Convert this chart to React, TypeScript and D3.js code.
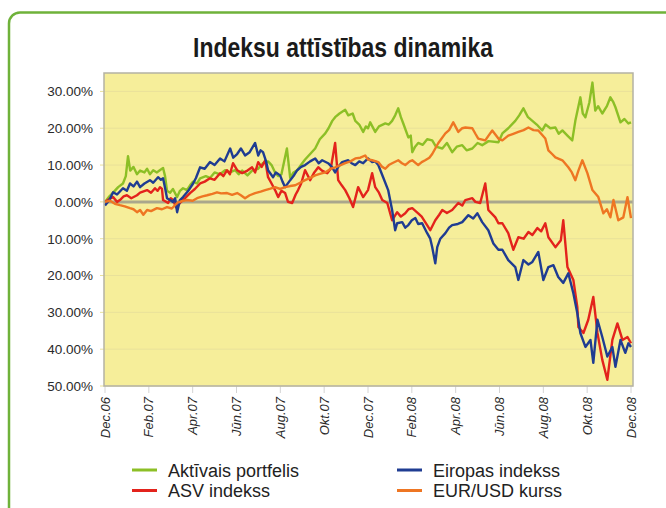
import { useEffect, useRef } from "react";
import * as d3 from "d3";

// x axis: months since Dec.06, one label every 2 months
const TICK_LABELS = [
  "Dec.06", "Feb.07", "Apr.07", "Jūn.07", "Aug.07", "Okt.07", "Dec.07",
  "Feb.08", "Apr.08", "Jūn.08", "Aug.08", "Okt.08", "Dec.08",
];
const Y_TICKS = [30, 20, 10, 0, -10, -20, -30, -40, -50];

// [months since Dec.06, change in %]
const aktivaisPortfelis: [number, number][] = [
  [0, 0], [0.2, 1.5], [0.37, 2.5], [0.6, 4], [0.82, 5], [0.95, 7], [1.05, 12.4], [1.15, 8.5], [1.3, 9.5],
  [1.46, 7.5], [1.6, 8.5], [1.8, 8], [1.92, 9], [2.05, 7.5], [2.2, 8.6], [2.37, 8], [2.5, 8.6], [2.65, 9.2],
  [2.74, 7], [2.83, 3], [2.97, 2.5], [3.1, 3.5], [3.29, 1.3], [3.42, 3], [3.56, 3.7], [3.74, 3.2], [3.88, 4.5],
  [4.02, 5.5], [4.2, 5], [4.34, 6.4], [4.6, 7], [4.79, 6.5], [5.0, 8], [5.25, 7.5], [5.48, 8.6], [5.7, 8],
  [5.94, 8.6], [6.1, 7.5], [6.26, 8.5], [6.5, 7.2], [6.71, 8.5], [6.99, 9], [7.2, 10.5], [7.44, 11], [7.6, 10],
  [7.76, 8], [7.9, 7], [8.05, 7.5], [8.3, 14.5], [8.45, 6.5], [8.6, 8], [8.77, 8.6], [9.0, 10.5], [9.13, 11.5],
  [9.36, 13], [9.59, 14.5], [9.8, 17], [10.05, 18.6], [10.2, 20], [10.37, 22], [10.5, 23], [10.7, 24],
  [10.96, 25], [11.1, 23.5], [11.3, 24], [11.42, 22], [11.6, 21], [11.78, 19], [11.9, 20.5], [12.0, 20],
  [12.1, 21.6], [12.33, 19], [12.5, 20.5], [12.79, 21.3], [12.95, 21], [13.1, 22], [13.24, 23.5], [13.38, 25.4],
  [13.5, 23], [13.61, 21.3], [13.84, 17.5], [13.95, 18], [14.02, 13.5], [14.15, 15], [14.29, 16], [14.5, 15.5],
  [14.7, 17], [14.93, 16.7], [15.1, 15], [15.39, 14.5], [15.6, 16], [15.84, 13.5], [16.05, 15], [16.3, 15.4],
  [16.5, 14], [16.76, 14.5], [17.0, 16], [17.21, 15.4], [17.5, 16.5], [17.95, 16.2], [18.13, 18.6], [18.4, 20],
  [18.72, 22], [18.9, 23.5], [19.09, 25.4], [19.3, 23], [19.5, 22], [19.7, 21], [19.95, 19.4], [20.1, 21],
  [20.32, 20], [20.55, 20.2], [20.7, 18.5], [20.87, 19.4], [21.1, 18], [21.32, 16.7], [21.46, 22], [21.69, 28.4],
  [21.8, 24], [21.92, 23], [22.1, 27], [22.24, 32.4], [22.37, 24.8], [22.5, 26], [22.69, 24], [22.9, 26],
  [23.06, 28.4], [23.2, 27], [23.29, 25.7], [23.52, 21.6], [23.7, 22.5], [23.88, 21.3], [24, 21.6],
];

const eiropasIndekss: [number, number][] = [
  [0, -1], [0.2, 0.5], [0.37, 2.6], [0.55, 2], [0.82, 3.7], [1.0, 3], [1.14, 5], [1.3, 4.2], [1.46, 5.5],
  [1.6, 4], [1.8, 5], [2.05, 5.9], [2.2, 5.2], [2.42, 6.7], [2.55, 6], [2.65, 6.4], [2.75, 3.5], [2.83, 1],
  [2.97, 0.5], [3.1, 0], [3.2, 1], [3.29, -2.8], [3.42, 0.5], [3.56, 1.3], [3.8, 3], [4.02, 5], [4.15, 6.5],
  [4.34, 9.4], [4.55, 9], [4.79, 10.8], [5.0, 10], [5.25, 11.8], [5.45, 11], [5.71, 14.5], [5.85, 12], [6.03, 13],
  [6.2, 14.5], [6.39, 12.6], [6.6, 13.5], [6.85, 16], [6.99, 12.6], [7.1, 14], [7.21, 13.5], [7.35, 11],
  [7.44, 8.6], [7.67, 6.7], [7.8, 8], [7.99, 7.2], [8.1, 5.5], [8.22, 4], [8.45, 5.9], [8.6, 7], [8.77, 8.6],
  [8.95, 9.5], [9.13, 10], [9.36, 11], [9.59, 11.8], [9.75, 10.5], [9.91, 11.3], [10.18, 10.5], [10.35, 9.5],
  [10.5, 8], [10.64, 9.5], [10.82, 10.8], [11.1, 11.3], [11.25, 10.5], [11.42, 10], [11.6, 11], [11.78, 10.5],
  [12.0, 11.8], [12.19, 10.8], [12.33, 11], [12.47, 10], [12.69, 6.7], [12.92, 3.2], [13.1, -2.2], [13.24, -7.7],
  [13.33, -5.8], [13.56, -5.5], [13.7, -7], [13.84, -6.3], [14.0, -5], [14.16, -4.4], [14.29, -6], [14.47, -5.8],
  [14.7, -8.5], [14.84, -10], [14.93, -12.3], [15.07, -16.7], [15.16, -12.3], [15.3, -10], [15.53, -8.5],
  [15.7, -7], [15.84, -6.3], [16.1, -6], [16.3, -5.5], [16.58, -3.6], [16.8, -4.5], [16.99, -3.1], [17.21, -5.5],
  [17.49, -7.7], [17.72, -11.3], [17.95, -13], [18.13, -13], [18.4, -15.8], [18.72, -17.7], [18.86, -21.2],
  [19.09, -15.8], [19.32, -17], [19.5, -16.3], [19.77, -13.6], [20.0, -21.2], [20.23, -17.7], [20.46, -17.2],
  [20.68, -20.4], [20.91, -22], [21.14, -19.4], [21.37, -24.8], [21.55, -30.2], [21.69, -35.6], [21.92, -39.4],
  [22.15, -37.5], [22.28, -43.7], [22.47, -32], [22.69, -36.7], [22.92, -42], [23.15, -39.4], [23.29, -44.8],
  [23.52, -37.5], [23.74, -41], [23.88, -38.4], [24, -39.4],
];

const asvIndekss: [number, number][] = [
  [0, 0], [0.2, 0.8], [0.37, 1.3], [0.55, 0], [0.68, 0.5], [0.85, 1.5], [1.0, 1.8], [1.2, 1], [1.46, 1.8],
  [1.6, 2.5], [1.92, 3.2], [2.1, 2.5], [2.28, 3.7], [2.4, 3], [2.51, 4], [2.6, 3.5], [2.65, 0.5], [2.88, -0.3],
  [3.0, 1], [3.1, 0.5], [3.25, -1.5], [3.42, -0.3], [3.65, 1], [3.88, 2.4], [4.1, 3.5], [4.34, 5], [4.55, 5.5],
  [4.79, 6.4], [5.0, 6], [5.25, 7.8], [5.4, 7], [5.57, 8.6], [5.7, 7.5], [5.84, 10.5], [6.03, 8.6], [6.26, 7.8],
  [6.5, 8.5], [6.71, 9.4], [6.85, 8], [6.99, 10.8], [7.15, 9.5], [7.31, 11.3], [7.44, 6.7], [7.6, 5], [7.76, 3.2],
  [7.9, 1.3], [8.05, 3], [8.22, 2.4], [8.35, 0], [8.54, -0.3], [8.7, 2], [8.81, 3.2], [8.95, 5], [9.13, 8.6],
  [9.36, 5.9], [9.55, 8], [9.73, 9.4], [9.9, 8.5], [10.14, 7.8], [10.3, 9], [10.5, 16], [10.64, 5.9], [10.8, 4.5],
  [10.96, 3.2], [11.15, 1], [11.32, -1.4], [11.55, 4], [11.78, 1.3], [12.0, 3.2], [12.19, 7.8], [12.33, 4],
  [12.5, 2.5], [12.65, 0.5], [12.88, -0.3], [13.1, -5], [13.33, -2.8], [13.5, -4], [13.7, -3.1], [13.85, -2],
  [14.02, -1.7], [14.29, -3.1], [14.45, -4], [14.61, -5.5], [14.84, -7.7], [15.07, -5], [15.25, -3.5],
  [15.39, -2.2], [15.6, -3], [15.84, -2.2], [16.12, -0.3], [16.3, -1], [16.44, 0.5], [16.76, 1], [16.9, 0],
  [17.12, -0.3], [17.35, 5], [17.49, -2.2], [17.81, -4.2], [17.95, -5.8], [18.13, -5.8], [18.4, -8.5],
  [18.63, -13], [18.86, -9.6], [19.1, -10], [19.32, -8.2], [19.5, -9], [19.73, -7.1], [19.9, -8], [20.09, -5.8],
  [20.23, -9.6], [20.55, -12.3], [20.8, -10.4], [20.91, -5], [21.1, -17.7], [21.37, -21.2], [21.55, -28.5],
  [21.6, -34], [21.83, -35.6], [22.05, -32], [22.28, -25.8], [22.47, -35.6], [22.69, -42.9], [22.92, -48.3],
  [23.15, -37.5], [23.38, -33], [23.61, -37.5], [23.84, -36.7], [24, -38.4],
];

const eurUsdKurss: [number, number][] = [
  [0, 0], [0.23, 0.3], [0.45, -0.5], [0.68, -0.9], [0.9, -1.2], [1.14, -1.7], [1.3, -2], [1.46, -2.8],
  [1.6, -2.2], [1.75, -3.5], [1.92, -2.2], [2.1, -2.5], [2.37, -1.7], [2.6, -2], [2.83, -1.4], [3.05, -1.8],
  [3.29, -0.3], [3.5, 0.2], [3.74, 0.5], [4.0, 0.3], [4.2, 1], [4.45, 1.5], [4.66, 1.8], [4.9, 2.2], [5.11, 2.6],
  [5.3, 2.3], [5.57, 2.4], [5.8, 1.9], [6.03, 2.4], [6.2, 1.8], [6.39, 1], [6.6, 1.8], [6.85, 2.4], [7.1, 2.8],
  [7.31, 3.2], [7.55, 3.6], [7.76, 4], [8.0, 3.5], [8.22, 4], [8.45, 4.3], [8.68, 4.5], [8.9, 5.2], [9.13, 5.9],
  [9.36, 6.5], [9.59, 7.2], [9.8, 7.6], [10.05, 8], [10.3, 9], [10.5, 9.4], [10.75, 10], [10.96, 10.5],
  [11.2, 11], [11.42, 11.8], [11.65, 12], [11.87, 12.6], [12.0, 11.5], [12.19, 11.3], [12.47, 10.8],
  [12.65, 9.5], [12.79, 9], [12.95, 10], [13.1, 10.5], [13.38, 11.3], [13.55, 10.5], [13.7, 10], [13.9, 11],
  [14.02, 11.3], [14.29, 10], [14.45, 10.8], [14.61, 11.3], [14.8, 12], [14.93, 13], [15.21, 16], [15.53, 18.6],
  [15.7, 19.5], [15.89, 21.6], [16.12, 19], [16.3, 20], [16.44, 20.2], [16.76, 20], [16.9, 18.5], [17.03, 17.2],
  [17.35, 16.7], [17.5, 18], [17.67, 19.4], [17.95, 17.2], [18.13, 16.7], [18.4, 18], [18.63, 18.5], [18.86, 19],
  [19.1, 19.5], [19.32, 20.2], [19.55, 19.5], [19.77, 19.4], [20.09, 17.2], [20.23, 14], [20.4, 13], [20.55, 12.1],
  [20.87, 11.3], [21.14, 9.4], [21.3, 8], [21.46, 5.9], [21.6, 8.5], [21.78, 11.3], [22.01, 7.8], [22.24, 3.2],
  [22.51, 1.3], [22.74, -3.1], [22.9, -2], [23.06, -4.2], [23.2, 0.5], [23.42, -5], [23.65, -4.2], [23.84, 1.3],
  [24, -4.4],
];

const SERIES = [
  { name: "Aktīvais portfelis", color: "#8cbf26", data: aktivaisPortfelis },
  { name: "ASV indekss", color: "#e3231c", data: asvIndekss },
  { name: "Eiropas indekss", color: "#1f3c92", data: eiropasIndekss },
  { name: "EUR/USD kurss", color: "#ee7623", data: eurUsdKurss },
];

// legend is laid out in two columns
const LEGEND = [
  { name: "Aktīvais portfelis", col: 0, row: 0 },
  { name: "ASV indekss", col: 0, row: 1 },
  { name: "Eiropas indekss", col: 1, row: 0 },
  { name: "EUR/USD kurss", col: 1, row: 1 },
];

const W = 666;
const H = 508;
const FONT = "'Liberation Sans', Arial, sans-serif";

export default function App() {
  const svgRef = useRef<SVGSVGElement>(null);

  useEffect(() => {
    if (!svgRef.current) return;
    const svg = d3.select(svgRef.current);
    svg.selectAll("*").remove();

    const plot = { left: 104, right: 633, top: 73, bottom: 386 };

    // outer rounded frame
    svg.append("rect")
      .attr("x", 9)
      .attr("y", 12.5)
      .attr("width", 720)
      .attr("height", 600)
      .attr("rx", 11)
      .attr("fill", "#fff")
      .attr("stroke", "#6fb23a")
      .attr("stroke-width", 2.5);

    // title is a narrow bold face in the original, squeeze it to the same width
    svg.append("text")
      .attr("x", 193)
      .attr("y", 57)
      .attr("textLength", 300)
      .attr("lengthAdjust", "spacingAndGlyphs")
      .style("font-family", FONT)
      .style("font-weight", "bold")
      .style("font-size", "28px")
      .attr("fill", "#1b1b1b")
      .text("Indeksu attīstības dinamika");

    const x = d3.scaleLinear().domain([0, 24]).range([105, 631]);
    const y = d3.scaleLinear().domain([-50, 35]).range([plot.bottom, plot.top]);

    // plot background
    svg.append("rect")
      .attr("x", plot.left)
      .attr("y", plot.top)
      .attr("width", plot.right - plot.left)
      .attr("height", plot.bottom - plot.top)
      .attr("fill", "#f6ee9a");

    // faint gridlines + small ticks on the left
    const yg = svg.append("g");
    yg.selectAll("line.grid")
      .data(Y_TICKS)
      .enter().append("line")
      .attr("class", "grid")
      .attr("x1", plot.left - 4)
      .attr("x2", plot.right)
      .attr("y1", d => y(d))
      .attr("y2", d => y(d))
      .attr("stroke", "#e9e19a")
      .attr("stroke-width", 1);

    yg.selectAll("text")
      .data(Y_TICKS)
      .enter().append("text")
      .attr("x", 93)
      .attr("y", d => y(d))
      .attr("dy", "0.36em")
      .attr("text-anchor", "end")
      .style("font-family", FONT)
      .style("font-size", "13.5px")
      .attr("fill", "#2a2a2a")
      .text(d => `${Math.abs(d).toFixed(2)}%`);

    // x ticks + rotated labels
    const months = TICK_LABELS.map((_, i) => i * 2);
    const xg = svg.append("g");
    xg.selectAll("line")
      .data(months)
      .enter().append("line")
      .attr("x1", d => x(d))
      .attr("x2", d => x(d))
      .attr("y1", plot.bottom)
      .attr("y2", plot.bottom + 7)
      .attr("stroke", "#d4d4d4")
      .attr("stroke-width", 1);

    xg.selectAll("text")
      .data(months)
      .enter().append("text")
      .attr("transform", d => `translate(${x(d) + 4.5},${plot.bottom + 11}) rotate(-90)`)
      .attr("text-anchor", "end")
      .style("font-family", FONT)
      .style("font-style", "italic")
      .style("font-size", "13px")
      .attr("fill", "#2a2a2a")
      .text((_, i) => TICK_LABELS[i]);

    // zero line
    svg.append("line")
      .attr("x1", plot.left)
      .attr("x2", plot.right)
      .attr("y1", y(0))
      .attr("y2", y(0))
      .attr("stroke", "#aaa78c")
      .attr("stroke-width", 3);

    const line = d3.line<[number, number]>()
      .x(d => x(d[0]))
      .y(d => y(d[1]));

    SERIES.forEach(s => {
      svg.append("path")
        .datum(s.data)
        .attr("fill", "none")
        .attr("stroke", s.color)
        .attr("stroke-width", 2.4)
        .attr("stroke-linejoin", "round")
        .attr("d", line);
    });

    // plot border
    svg.append("rect")
      .attr("x", plot.left)
      .attr("y", plot.top)
      .attr("width", plot.right - plot.left)
      .attr("height", plot.bottom - plot.top)
      .attr("fill", "none")
      .attr("stroke", "#b4b2a4")
      .attr("stroke-width", 1.5);

    // legend
    const colorOf = (name: string) => SERIES.find(s => s.name === name)!.color;
    const lg = svg.selectAll("g.legend")
      .data(LEGEND)
      .enter().append("g")
      .attr("class", "legend")
      .attr("transform", d => `translate(${132 + d.col * 265},${470 + d.row * 20.5})`);

    lg.append("line")
      .attr("x1", 0)
      .attr("x2", 25)
      .attr("stroke", d => colorOf(d.name))
      .attr("stroke-width", 3);

    lg.append("text")
      .attr("x", 36)
      .attr("y", 6.5)
      .style("font-family", FONT)
      .style("font-size", "18px")
      .attr("fill", "#222")
      .text(d => d.name);
  }, []);

  return (
    <div style={{ position: "absolute", left: 0, top: 0, width: W, height: H, overflow: "hidden", background: "#fff" }}>
      <svg ref={svgRef} width={W} height={H} style={{ display: "block" }}></svg>
    </div>
  );
}
